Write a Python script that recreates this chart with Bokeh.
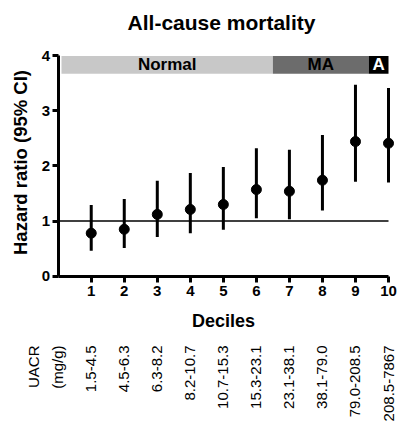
import numpy as np
from bokeh.plotting import figure
from bokeh.models import Range1d, FixedTicker, ColumnDataSource, LinearAxis
from bokeh.core.properties import value
from bokeh.embed import file_html
from bokeh.resources import INLINE

# ---- data ----
deciles = [1, 2, 3, 4, 5, 6, 7, 8, 9, 10]
hr = [0.78, 0.85, 1.12, 1.21, 1.30, 1.57, 1.54, 1.74, 2.44, 2.41]
ci_low = [0.46, 0.51, 0.71, 0.78, 0.84, 1.05, 1.03, 1.19, 1.71, 1.70]
ci_high = [1.29, 1.40, 1.73, 1.87, 1.98, 2.32, 2.29, 2.56, 3.47, 3.41]
uacr_labels = ["1.5-4.5", "4.5-6.3", "6.3-8.2", "8.2-10.7", "10.7-15.3",
               "15.3-23.1", "23.1-38.1", "38.1-79.0", "79.0-208.5", "208.5-7867"]
band_names = ["Normal", "MA", "A"]
band_start = [0.1, 6.5, 9.4]
band_end = [6.5, 9.4, 10.0]
band_colors = ["#c8c8c8", "#6c6c6c", "#000000"]
band_text_colors = ["#000000", "#000000", "#ffffff"]
band_low, band_high = 3.67, 3.99
y_ticks = [0, 1, 2, 3, 4]

FONT = "Liberation Sans"
W, H = 398, 424
X0, PX = 57.7, 33.03     # screen x of decile 0, pixels per decile
Y0, PY = 275.7, 55.17    # screen y of HR 0, pixels per HR unit


def dx(sx):
    return (sx - X0) / PX


def dy(sy):
    return (Y0 - sy) / PY


p = figure(width=W, height=H, output_backend="svg", toolbar_location=None,
           x_range=Range1d(dx(0), dx(W)), y_range=Range1d(dy(H), dy(0)),
           x_axis_location=None, y_axis_location=None,
           min_border=0, min_border_left=0, min_border_right=0,
           min_border_top=0, min_border_bottom=0)
p.outline_line_color = None
p.grid.visible = False

# bands
bsrc = ColumnDataSource(dict(left=band_start, right=band_end,
                             color=band_colors, tcolor=band_text_colors,
                             name=band_names,
                             mid=[(a + b) / 2 for a, b in zip(band_start, band_end)]))
p.quad(left="left", right="right", bottom=band_low, top=band_high,
       fill_color="color", line_color=None, source=bsrc)
p.text(x="mid", y=(band_low + band_high) / 2, text="name", text_color="tcolor",
       text_font=value(FONT), text_font_size="17px", text_font_style="bold",
       text_align="center", text_baseline="middle", source=bsrc)

# reference line at HR=1
p.segment(x0=0, y0=1, x1=10, y1=1, line_color="black", line_width=1.5)

src = ColumnDataSource(dict(x=deciles, y=hr, lo=ci_low, hi=ci_high))
p.segment(x0="x", y0="lo", x1="x", y1="hi", line_color="black", line_width=3, source=src)
p.scatter(x="x", y="y", size=10, fill_color="black", line_color="black", source=src)

# axes (fixed at the data origin)
xax = LinearAxis(ticker=FixedTicker(ticks=deciles), bounds=(0, 10), fixed_location=0)
yax = LinearAxis(ticker=FixedTicker(ticks=y_ticks), bounds=(0, 4), fixed_location=0)
for ax in (xax, yax):
    ax.axis_line_width = 3
    ax.axis_line_color = "black"
    ax.major_tick_line_width = 3
    ax.major_tick_line_color = "black"
    ax.major_tick_out = 6
    ax.major_tick_in = 0
    ax.minor_tick_line_color = None
    ax.major_label_text_font = FONT
    ax.major_label_text_font_size = "15px"
    ax.major_label_text_font_style = "bold"
    ax.major_label_text_color = "black"
xax.major_label_standoff = 4
yax.major_label_standoff = 2
p.add_layout(xax, "below")
p.add_layout(yax, "left")

# titles
p.text(x=[dx(221)], y=[dy(22)], text=["All-cause mortality"],
       text_font=value(FONT), text_font_size="21px", text_font_style="bold",
       text_align="center", text_baseline="middle", text_color="black")
p.text(x=[dx(20)], y=[dy(162)], text=["Hazard ratio (95% CI)"], angle=np.pi / 2,
       text_font=value(FONT), text_font_size="18.5px", text_font_style="bold",
       text_align="center", text_baseline="middle", text_color="black")
p.text(x=[dx(223)], y=[dy(320)], text=["Deciles"],
       text_font=value(FONT), text_font_size="18px", text_font_style="bold",
       text_align="center", text_baseline="middle", text_color="black")

# UACR ranges
top_y = dy(345)
lsrc = ColumnDataSource(dict(x=deciles, t=uacr_labels))
p.text(x="x", y=top_y, text="t", angle=np.pi / 2, text_align="right",
       text_baseline="middle", text_font=value(FONT), text_font_size="15px",
       text_color="black", source=lsrc)
p.text(x=[dx(33), dx(57)], y=top_y, text=["UACR", "(mg/g)"], angle=np.pi / 2,
       text_align="right", text_baseline="middle", text_font=value(FONT),
       text_font_size="15px", text_color="black")

open("out.html", "w").write(file_html(p, INLINE))
